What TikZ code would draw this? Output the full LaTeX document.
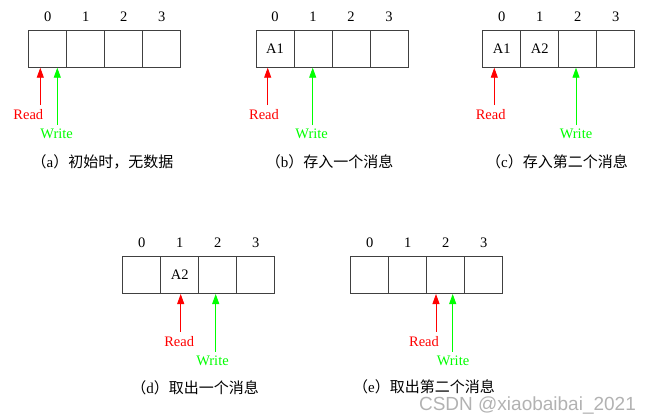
\documentclass[tikz,border=0pt]{standalone}
\usepackage{fontspec}
\setmainfont{Liberation Serif}
\newfontfamily\cjk{Noto Sans CJK SC}
\newfontfamily\wmfont{Liberation Sans}
\usepackage{tikz}
\usetikzlibrary{positioning,arrows.meta}

\tikzset{
	cell/.style={draw=black!75, line width=1pt, minimum width=38pt, minimum height=37pt, inner sep=0pt},
	idx/.style={inner sep=0pt, label distance=8pt},
	rdptr/.style={draw=red, line width=0.9pt, -{Triangle[width=7pt,length=10pt]}, red},
	wrptr/.style={draw=green, line width=0.9pt, -{Triangle[width=7pt,length=10pt]}, green},
	rdtext/.style={text=red, inner sep=0pt},
	wrtext/.style={text=green, inner sep=0pt},
	caption/.style={inner sep=0pt, font=\fontsize{15}{17}\selectfont},
}

\begin{document}
\begin{tikzpicture}[x=1pt, y=-1pt, every node/.style={font=\fontsize{14.5}{17}\selectfont}]
	\useasboundingbox (0,0) rectangle (653,420);

	% (a)
	\foreach \i in {0,...,3}
		\node[cell, label={[idx]above:\i}] (a\i) at (47.7+38*\i, 48.7) {};
	\coordinate (ar) at (40.3,105);
	\coordinate (aw) at (57.3,125);
	\draw[rdptr] (ar) -- (ar |- a0.south);
	\draw[wrptr] (aw) -- (aw |- a0.south);
	\node[rdtext] (arl) at (28.3,114.5) {Read};
	\node[wrtext] (awl) at (56.7,134) {Write};
	\node[caption] (acap) at (102.5,162) {{\cjk （}a{\cjk ）初始时，无数据}};

	% (b)
	\foreach \i in {0,...,3}
		\node[cell, label={[idx]above:\i}] (b\i) at (275+38*\i, 48.7) {};
	\node (bv0) at (b0) {A1};
	\coordinate (br) at (267.7,105);
	\coordinate (bw) at (312.7,125);
	\draw[rdptr] (br) -- (br |- b0.south);
	\draw[wrptr] (bw) -- (bw |- b1.south);
	\node[rdtext] (brl) at (264,114.5) {Read};
	\node[wrtext] (bwl) at (311.7,134) {Write};
	\node[caption] (bcap) at (329.5,162) {{\cjk （}b{\cjk ）存入一个消息}};

	% (c)
	\foreach \i in {0,...,3}
		\node[cell, label={[idx]above:\i}] (c\i) at (501.7+38*\i, 48.7) {};
	\node (cv0) at (c0) {A1};
	\node (cv1) at (c1) {A2};
	\coordinate (cr) at (494.3,105);
	\coordinate (cw) at (576,125);
	\draw[rdptr] (cr) -- (cr |- c0.south);
	\draw[wrptr] (cw) -- (cw |- c2.south);
	\node[rdtext] (crl) at (490.7,114.5) {Read};
	\node[wrtext] (cwl) at (576,134) {Write};
	\node[caption] (ccap) at (557,162) {{\cjk （}c{\cjk ）存入第二个消息}};

	% (d)
	\foreach \i in {0,...,3}
		\node[cell, label={[idx]above:\i}] (d\i) at (141.7+38*\i, 275) {};
	\node (dv1) at (d1) {A2};
	\coordinate (dr) at (180.7,331.7);
	\coordinate (dw) at (215.7,351.7);
	\draw[rdptr] (dr) -- (dr |- d1.south);
	\draw[wrptr] (dw) -- (dw |- d2.south);
	\node[rdtext] (drl) at (179.2,341.2) {Read};
	\node[wrtext] (dwl) at (212.5,360.7) {Write};
	\node[caption] (dcap) at (195,388) {{\cjk （}d{\cjk ）取出一个消息}};

	% (e)
	\foreach \i in {0,...,3}
		\node[cell, label={[idx]above:\i}] (e\i) at (369.7+38*\i, 275) {};
	\coordinate (er) at (436,331.7);
	\coordinate (ew) at (452.7,351.7);
	\draw[rdptr] (er) -- (er |- e2.south);
	\draw[wrptr] (ew) -- (ew |- e2.south);
	\node[rdtext] (erl) at (424,341.2) {Read};
	\node[wrtext] (ewl) at (453,360.7) {Write};
	\node[caption] (ecap) at (424,387) {{\cjk （}e{\cjk ）取出第二个消息}};

	% watermark
	\node[text=black!30, inner sep=0pt, font=\wmfont\fontsize{19}{22}\selectfont] (mark) at (527.5,405) {CSDN @xiaobaibai\_2021};
\end{tikzpicture}
\end{document}
